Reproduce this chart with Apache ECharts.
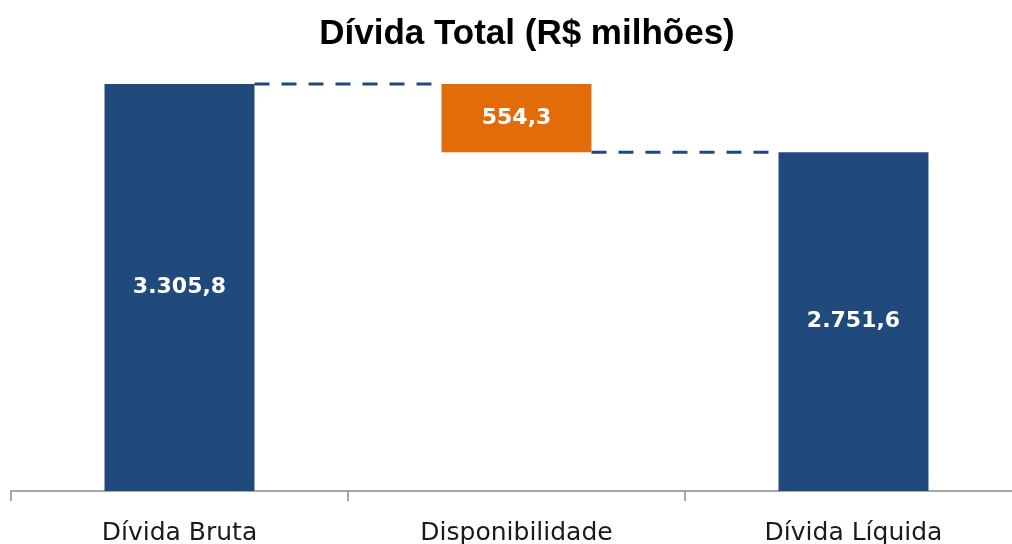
<!DOCTYPE html>
<html>
<head>
<meta charset="utf-8">
<script src="https://cdn.jsdelivr.net/npm/echarts@6/dist/echarts.min.js"></script>
<style>html,body{margin:0;padding:0;background:#fff}#c{width:1012px;height:544px}</style>
</head>
<body>
<div id="c"></div>
<script>
const titleText = 'Dívida Total (R$ milhões)';
const categories = ['Dívida Bruta', 'Disponibilidade', 'Dívida Líquida'];
const values = [3305.8, 554.3, 2751.6];
const kinds = ['total', 'delta', 'total'];

const BLUE = '#1F4A7B';
const ORANGE = '#E36C0A';
const BAR_W = 0.445;

// invisible base under the floating (delta) bar
const base = values.map((v, i) => kinds[i] === 'delta' ? values[i - 1] - v : 0);
// connector level from bar i to bar i+1: top of a total bar, bottom of a delta bar
const connectors = [];
for (let i = 0; i < values.length - 1; i++) {
  const lvl = kinds[i] === 'delta' ? base[i] : values[i];
  connectors.push([i, lvl]);
}

function fmt(v) {
  const parts = v.toFixed(1).split('.');
  const int = parts[0].replace(/\B(?=(\d{3})+(?!\d))/g, '.');
  return int + ',' + parts[1];
}

const chart = echarts.init(document.getElementById('c'), null, { renderer: 'canvas' });
chart.setOption({
  animation: false,
  title: {
    text: titleText,
    left: 522, top: 12, textAlign: 'center',
    textStyle: { fontFamily: 'Liberation Sans', fontWeight: 'bold', fontSize: 35, color: '#000' }
  },
  grid: { left: 11, width: 1011, top: 60, bottom: 53, containLabel: false, outerBoundsMode: 'none' },
  xAxis: {
    type: 'category', data: categories,
    axisLine: { lineStyle: { color: '#8a8a8a', width: 1.5 } },
    axisTick: { show: true, length: 10, lineStyle: { color: '#8a8a8a', width: 1.5 } },
    axisLabel: { color: '#1a1a1a', fontFamily: 'DejaVu Sans', fontSize: 25, margin: 30 }
  },
  yAxis: { type: 'value', min: 0, max: 3500, show: false, splitLine: { show: false } },
  series: [
    {
      type: 'bar', stack: 'w', data: base, barWidth: (BAR_W * 100) + '%',
      itemStyle: { color: 'transparent' }, silent: true
    },
    {
      type: 'bar', stack: 'w', barWidth: (BAR_W * 100) + '%',
      data: values.map((v, i) => ({ value: v, itemStyle: { color: kinds[i] === 'delta' ? ORANGE : BLUE } })),
      label: {
        show: true, position: 'inside', color: '#fff', fontFamily: 'DejaVu Sans',
        fontWeight: 'bold', fontSize: 22, formatter: p => fmt(p.value)
      }
    },
    {
      type: 'custom', data: connectors, z: 1,
      renderItem: function (params, api) {
        const i = api.value(0), lvl = api.value(1);
        const p1 = api.coord([i, lvl]);
        const p2 = api.coord([i + 1, lvl]);
        const half = api.size([1, 0])[0] * BAR_W / 2;
        return {
          type: 'line',
          shape: { x1: p1[0] + half, y1: p1[1], x2: p2[0] - half, y2: p2[1] },
          style: { stroke: BLUE, lineWidth: 3, lineDash: [15, 12] }
        };
      }
    }
  ]
});
</script>
</body>
</html>
